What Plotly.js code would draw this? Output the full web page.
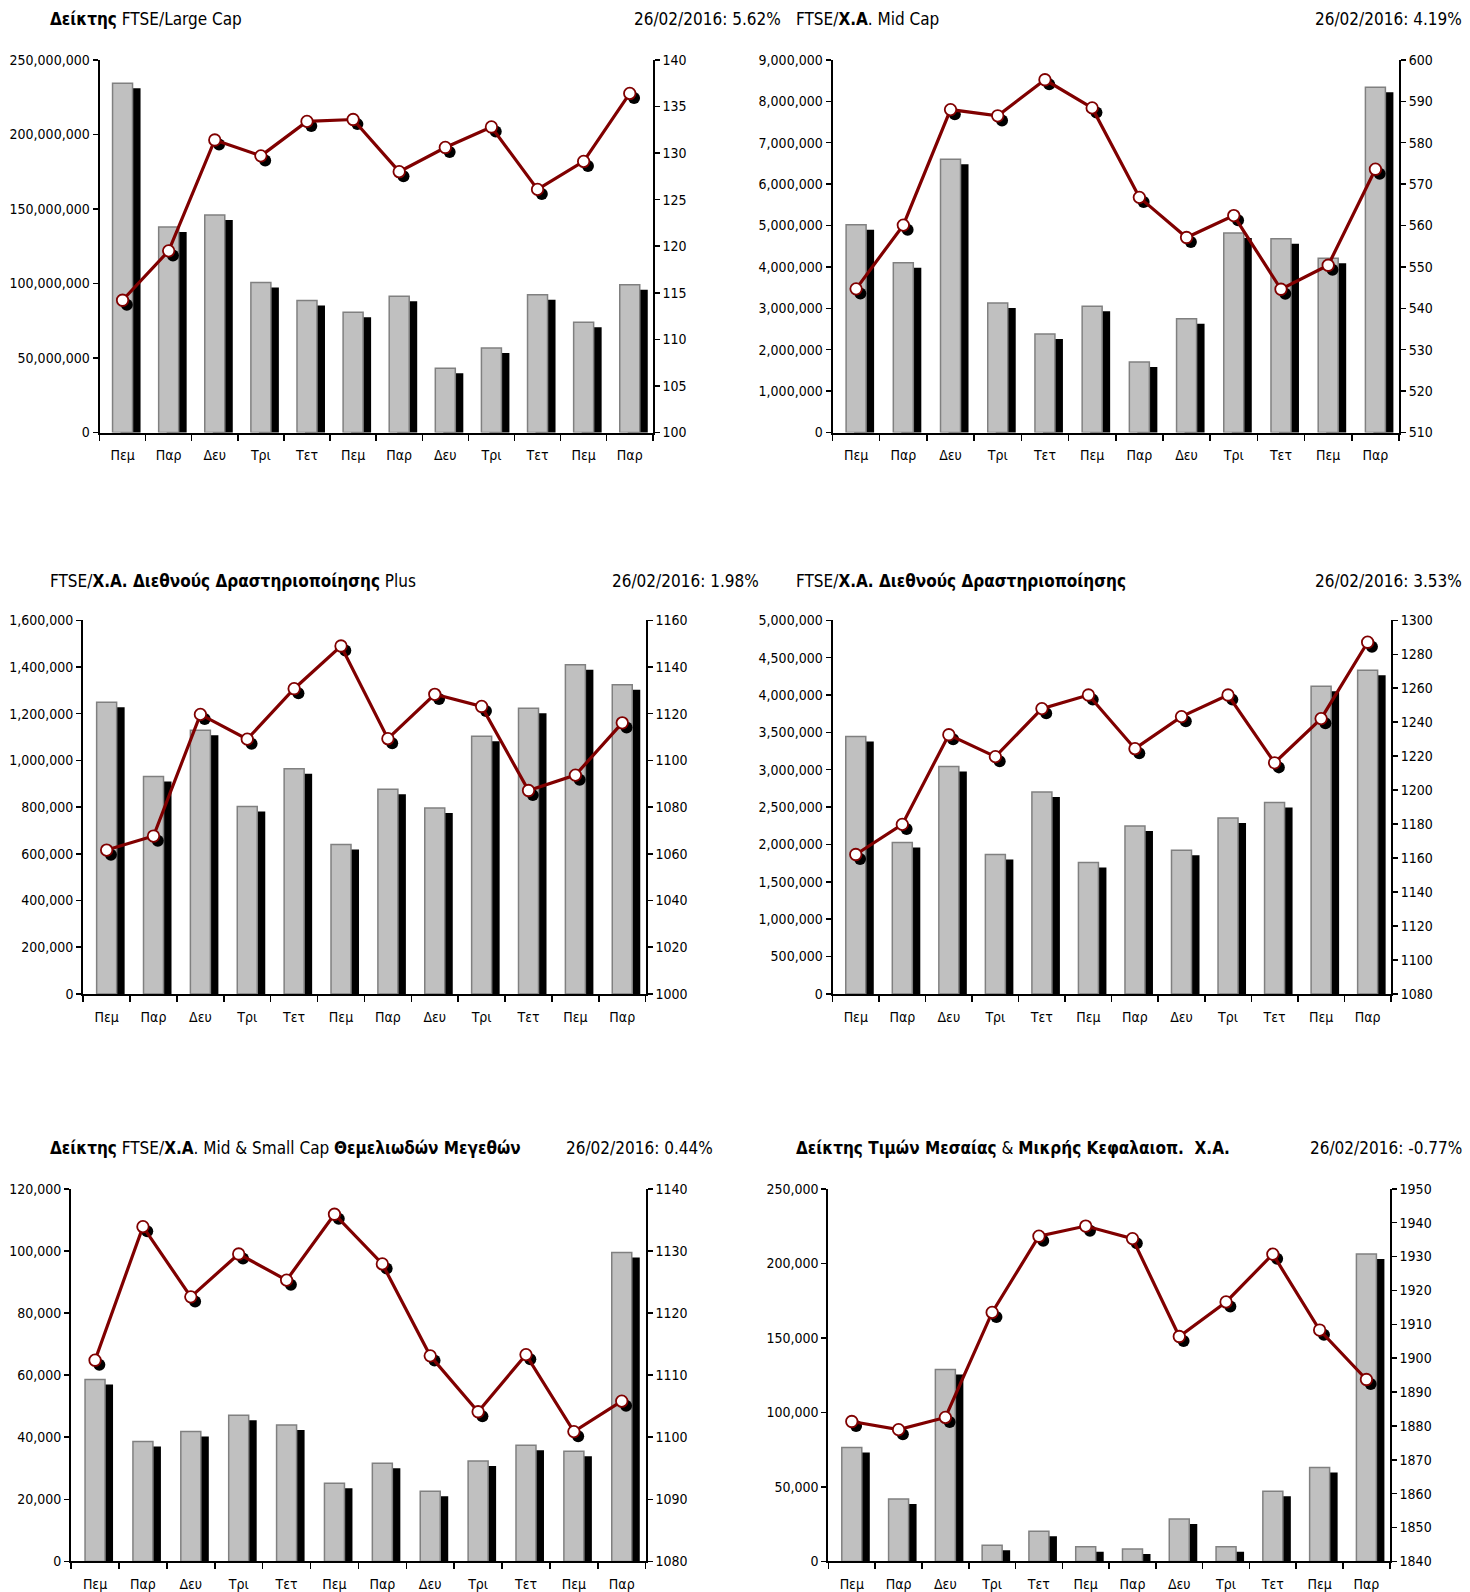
<!DOCTYPE html>
<html><head><meta charset="utf-8">
<script src="https://cdn.plot.ly/plotly-3.0.1.min.js"></script>
<style>html,body{margin:0;padding:0;background:#fff;}#chart{width:1470px;height:1592px;}</style>
</head><body><div id="chart"></div>
<script>
// ---- data ----
const days = ['Πεμ','Παρ','Δευ','Τρι','Τετ','Πεμ','Παρ','Δευ','Τρι','Τετ','Πεμ','Παρ'];

const largeCapVolume = [234.4e6,137.9e6,146.0e6,100.7e6,88.6e6,80.6e6,91.5e6,43.1e6,56.7e6,92.4e6,73.9e6,99.1e6];
const largeCapIndex  = [114.2,119.5,131.4,129.7,133.4,133.6,128.0,130.6,132.8,126.1,129.1,136.4];

const midCapVolume = [5.02e6,4.10e6,6.60e6,3.13e6,2.38e6,3.05e6,1.70e6,2.75e6,4.82e6,4.68e6,4.21e6,8.34e6];
const midCapIndex  = [544.7,560.1,588.0,586.5,595.2,588.4,566.8,557.1,562.4,544.6,550.4,573.6];

const intlPlusVolume = [1249000,931000,1129000,803000,964000,640000,876000,796000,1103000,1223000,1410000,1324000];
const intlPlusIndex  = [1061.6,1067.6,1119.7,1109.1,1130.7,1149.0,1109.3,1128.3,1123.1,1087.1,1093.7,1116.1];

const intlVolume = [3446000,2027000,3045000,1866000,2701000,1759000,2246000,1924000,2353000,2563000,4116000,4330000];
const intlIndex  = [1162.1,1179.8,1232.6,1219.7,1248.0,1256.0,1224.4,1243.3,1256.0,1216.1,1242.1,1287.1];

const fundVolume = [58600,38600,41800,47100,43900,25200,31600,22600,32300,37400,35500,99500];
const fundIndex  = [1112.4,1133.9,1122.6,1129.5,1125.3,1135.9,1127.9,1113.1,1104.1,1113.3,1100.9,1105.8];

const midSmallVolume = [76400,41800,128700,10900,20300,9800,8300,28400,9800,47100,63000,206200];
const midSmallIndex  = [1881.3,1878.9,1882.5,1913.5,1936.0,1939.0,1935.3,1906.4,1916.6,1930.7,1908.3,1893.7];

const titles = [
  '<b>Δείκτης</b> FTSE/Large Cap',
  'FTSE/<b>Χ.Α</b>. Mid Cap',
  'FTSE/<b>Χ.Α. Διεθνούς Δραστηριοποίησης</b> Plus',
  'FTSE/<b>Χ.Α. Διεθνούς Δραστηριοποίησης</b>',
  '<b>Δείκτης</b> FTSE/<b>Χ.Α</b>. Mid &amp; Small Cap <b>Θεμελιωδών Μεγεθών</b>',
  '<b>Δείκτης Τιμών Μεσαίας</b> &amp; <b>Μικρής Κεφαλαιοπ.  Χ.Α.</b>'
];
const dates = ['26/02/2016: 5.62%','26/02/2016: 4.19%','26/02/2016: 1.98%','26/02/2016: 3.53%','26/02/2016: 0.44%','26/02/2016: -0.77%'];

const leftAxes  = [[0,250e6,50e6],[0,9e6,1e6],[0,1.6e6,200000],[0,5e6,500000],[0,120000,20000],[0,250000,50000]];
const rightAxes = [[100,140,5],[510,600,10],[1000,1160,20],[1080,1300,20],[1080,1140,10],[1840,1950,10]];

// ---- layout geometry (pixels) ----
const W = 1470, H = 1592;
const panels = [
  {vol: largeCapVolume, idx: largeCapIndex,  box:[99.5,652.8,59.9,432.5],  tx:47.7, dx:782.7, ty:19.3},
  {vol: midCapVolume,   idx: midCapIndex,    box:[832.5,1399,59.9,432.5],  tx:794,  dx:1464,  ty:19.3},
  {vol: intlPlusVolume, idx: intlPlusIndex,  box:[83.2,645.7,620.3,993.9], tx:47.7, dx:761.4, ty:580.7},
  {vol: intlVolume,     idx: intlIndex,      box:[832.5,1390.9,620.3,993.9], tx:794, dx:1464, ty:580.7},
  {vol: fundVolume,     idx: fundIndex,      box:[71.1,645.7,1188.8,1561.4], tx:47.7, dx:714.7, ty:1148},
  {vol: midSmallVolume, idx: midSmallIndex,  box:[828.4,1389.8,1188.8,1561.4], tx:794, dx:1464, ty:1148}
];

const FONT = 'DejaVu Sans Condensed, Liberation Sans Narrow, Arial Narrow, Liberation Sans, Arial, sans-serif';
const traces = [];
const layout = {
  width: W, height: H, autosize: false,
  margin: {l:0, r:0, t:0, b:0, pad:0},
  paper_bgcolor: '#fff', plot_bgcolor: 'rgba(0,0,0,0)',
  showlegend: false, barmode: 'overlay',
  font: {family: FONT, size: 14, color: '#000'},
  annotations: []
};
const aid = (p, n) => n === 1 ? p : p + n;
const aname = (p, n) => n === 1 ? p + 'axis' : p + 'axis' + n;

panels.forEach((p, i) => {
  // shadow x axis gets the lower id so its overlay is drawn beneath the line
  const xs = 2*i+1, xa = 2*i+2, yl = 4*i+1, ys = 4*i+2, yr = 4*i+3, yt = 4*i+4;
  const [x0, x1, yTop, yBot] = p.box;
  const dom = {x: [x0/W, x1/W], y: [1 - yBot/H, 1 - yTop/H]};
  const plotW = x1 - x0, plotH = yBot - yTop, cat = plotW / 12;
  const xi = days.map((_, k) => k);
  const [l0, l1, ld] = leftAxes[i];
  const [r0, r1, rd] = rightAxes[i];
  const barW = 20 / cat;
  const shadowBase = -5 * (l1 - l0) / plotH;

  traces.push({type:'bar', x: xi, y: p.vol, base: shadowBase, width: barW, offset: -barW/2 + 8/cat,
    marker: {color:'#000', line:{width:0}}, xaxis: aid('x', xa), yaxis: aid('y', yl), hoverinfo:'skip'});
  traces.push({type:'bar', x: xi, y: p.vol, width: barW, offset: -barW/2,
    marker: {color:'#C0C0C0', line:{color:'#808080', width:1.5}}, xaxis: aid('x', xa), yaxis: aid('y', yl)});
  traces.push({type:'scatter', mode:'markers', x: xi, y: p.idx, cliponaxis: false,
    marker: {color:'#000', size: 12, line:{width:0}}, xaxis: aid('x', xs), yaxis: aid('y', ys), hoverinfo:'skip'});
  traces.push({type:'scatter', mode:'lines+markers', x: xi, y: p.idx, cliponaxis: false,
    line: {color:'#800000', width: 3.2},
    marker: {symbol:'circle', size: 11.5, color:'#fff', line:{color:'#800000', width: 1.8}},
    xaxis: aid('x', xa), yaxis: aid('y', yr)});

  const dxs = 4.3 / cat, dys = 4.6 * (r1 - r0) / plotH;

  layout[aname('x', xa)] = {domain: dom.x, range: [-0.5, 11.5], anchor: aid('y', yl),
    tickmode:'array', tickvals: xi, ticktext: days, ticks: '', showline: true, linecolor:'#000', linewidth: 2,
    showgrid: false, zeroline: false, fixedrange: true, tickfont: {size: 14, family: FONT},
    ticklabelstandoff: 9,
    minor: {tick0: -0.5, dtick: 1, ticks: 'outside', ticklen: 6, tickwidth: 1.5, tickcolor: '#000', showgrid: false}};
  layout[aname('x', xs)] = {domain: dom.x, overlaying: aid('x', xa), range: [-0.5 - dxs, 11.5 - dxs],
    visible: false, anchor: aid('y', yl), fixedrange: true};
  layout[aname('y', yl)] = {domain: dom.y, anchor: aid('x', xa), range: [l0, l1], tick0: l0, dtick: ld,
    tickformat: ',d', ticks: 'outside', ticklen: 5, tickwidth: 1.5, tickcolor:'#000',
    showline: true, linecolor:'#000', linewidth: 2, showgrid: false, zeroline: false, fixedrange: true,
    tickfont: {size: 14, family: FONT}};
  layout[aname('y', ys)] = {overlaying: aid('y', yl), anchor: aid('x', xa), range: [r0 + dys, r1 + dys],
    visible: false, fixedrange: true};
  layout[aname('y', yr)] = {overlaying: aid('y', yl), anchor: aid('x', xa), side: 'right', range: [r0, r1],
    tick0: r0, dtick: rd, ticks: 'outside', ticklen: 5, tickwidth: 1.5, tickcolor:'#000',
    showline: true, linecolor:'#000', linewidth: 2, showgrid: false, zeroline: false, fixedrange: true,
    tickfont: {size: 14, family: FONT}};
  layout[aname('y', yt)] = {overlaying: aid('y', yl), anchor: aid('x', xa), side: 'right', range: [r0, r1],
    tick0: r0, dtick: rd, ticks: 'inside', ticklen: 5, tickwidth: 1.5, tickcolor:'#000',
    showticklabels: false, showline: false, showgrid: false, zeroline: false, fixedrange: true};

  layout.annotations.push({xref:'paper', yref:'paper', x: p.tx / W, y: 1 - p.ty / H, xanchor:'left', yanchor:'middle',
    text: titles[i], showarrow: false, font: {family: FONT, size: 17, color:'#000'}});
  layout.annotations.push({xref:'paper', yref:'paper', x: p.dx / W, y: 1 - p.ty / H, xanchor:'right', yanchor:'middle',
    text: dates[i], showarrow: false, font: {family: FONT, size: 17, color:'#000'}});
});

Plotly.newPlot('chart', traces, layout, {staticPlot: true, displayModeBar: false});
</script>
</body></html>
